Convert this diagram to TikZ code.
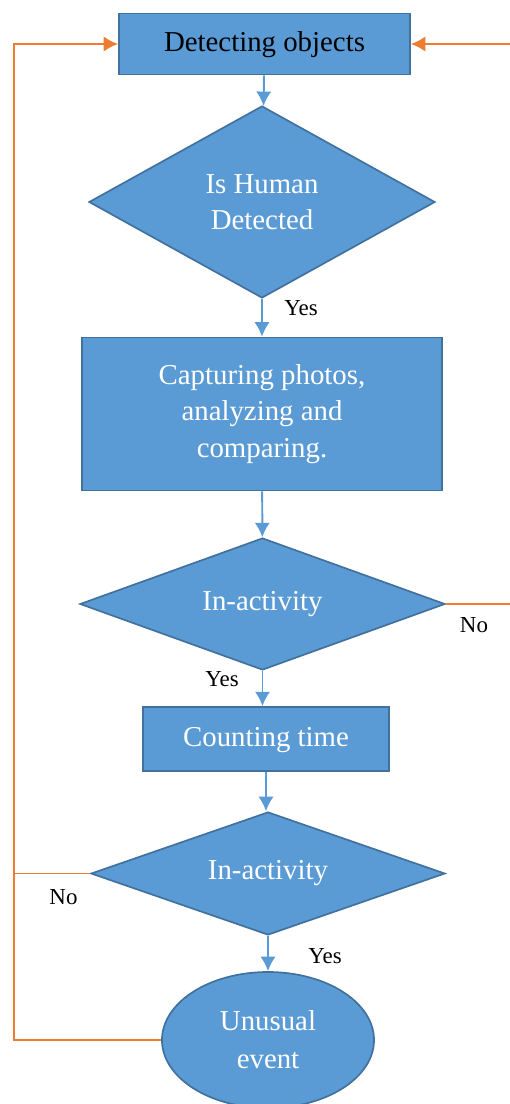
\documentclass[tikz,border=0pt]{standalone}
\usepackage{fontspec}
\setmainfont{Liberation Serif}
\usetikzlibrary{shapes.geometric}
\usetikzlibrary{arrows.meta}
\usepackage{xcolor}
\definecolor{boxblue}{HTML}{5B9BD5}
\definecolor{edgeblue}{HTML}{41719C}
\definecolor{looporange}{HTML}{ED7D31}

\begin{document}
\begin{tikzpicture}[x=0.025cm,y=-0.025cm]
\par
\tikzstyle{procbox}=[rectangle,draw=edgeblue,fill=boxblue,line width=1.2pt,inner sep=0pt,text=white,align=center,font=\fontsize{20.5}{26}\selectfont]
\tikzstyle{decide}=[diamond,draw=edgeblue,fill=boxblue,line width=1.2pt,inner sep=0pt,text=white,align=center,font=\fontsize{20.5}{26}\selectfont]
\tikzstyle{finish}=[ellipse,draw=edgeblue,fill=boxblue,line width=1.2pt,inner sep=0pt,text=white,align=center,font=\fontsize{20.5}{27}\selectfont]
\tikzstyle{flow}=[->,>={Latex[length=3.6mm,width=3.8mm]},draw=boxblue,line width=1.4pt]
\tikzstyle{goback}=[->,>={Latex[length=3.6mm,width=3.8mm]},draw=looporange,line width=1.4pt]
\tikzstyle{answer}=[anchor=base,font=\fontsize{16.3}{19}\selectfont]
\useasboundingbox (0,0) rectangle (510,1104) ;
\clip (0,0) rectangle (510,1104) ;
\par
\node[procbox,text=black,text height=0.5cm,text depth=0.12cm,minimum width=7.275cm,minimum height=1.525cm] (detect) at (264.5,44) {Detecting objects} ;
\node[decide,shape aspect=1.8,minimum width=8.65cm,minimum height=4.8cm] (human) at (262,202) {Is Human\\Detected} ;
\node[procbox,minimum width=9cm,minimum height=3.825cm] (capture) at (262,414) {Capturing photos,\\analyzing and\\comparing.} ;
\node[decide,shape aspect=2.77,minimum width=9.125cm,minimum height=3.3cm] (inact1) at (262.5,604) {In-activity} ;
\node[procbox,text height=0.5cm,text depth=0.12cm,minimum width=6.15cm,minimum height=1.6cm] (count) at (266,739) {Counting time} ;
\node[decide,shape aspect=2.88,minimum width=8.85cm,minimum height=3.075cm] (inact2) at (268,873.5) {In-activity} ;
\node[finish,minimum width=5.3cm,minimum height=3.4cm] (event) at (268,1040) {Unusual\\event} ;
\par
\node[answer] (yesA) at (301,315) {Yes} ;
\node[answer] (noA) at (474,632) {No} ;
\node[answer] (yesB) at (222,686) {Yes} ;
\node[answer] (noB) at (63.5,904) {No} ;
\node[answer] (yesC) at (325,963) {Yes} ;
\par
\draw[flow] (detect) -- (human) ;
\draw[flow] (human) -- (capture) ;
\draw[flow] (capture) -- (inact1) ;
\draw[flow] (inact1.south) -- (inact1.south |- count.north) ;
\draw[flow] (count.south) -- (count.south |- inact2.north) ;
\draw[flow] (inact2) -- (event) ;
\par
\coordinate (lefttop) at (14,44) ;
\coordinate (righttop) at (522,44) ;
\draw[goback] (event.west) -| (lefttop) -- (detect.west) ;
\draw[draw=looporange,line width=0.6pt] (inact2.west) -- (inact2.west -| lefttop) ;
\draw[goback] (inact1.east) -| (righttop) -- (detect.east) ;
\par
\end{tikzpicture}
\end{document}
